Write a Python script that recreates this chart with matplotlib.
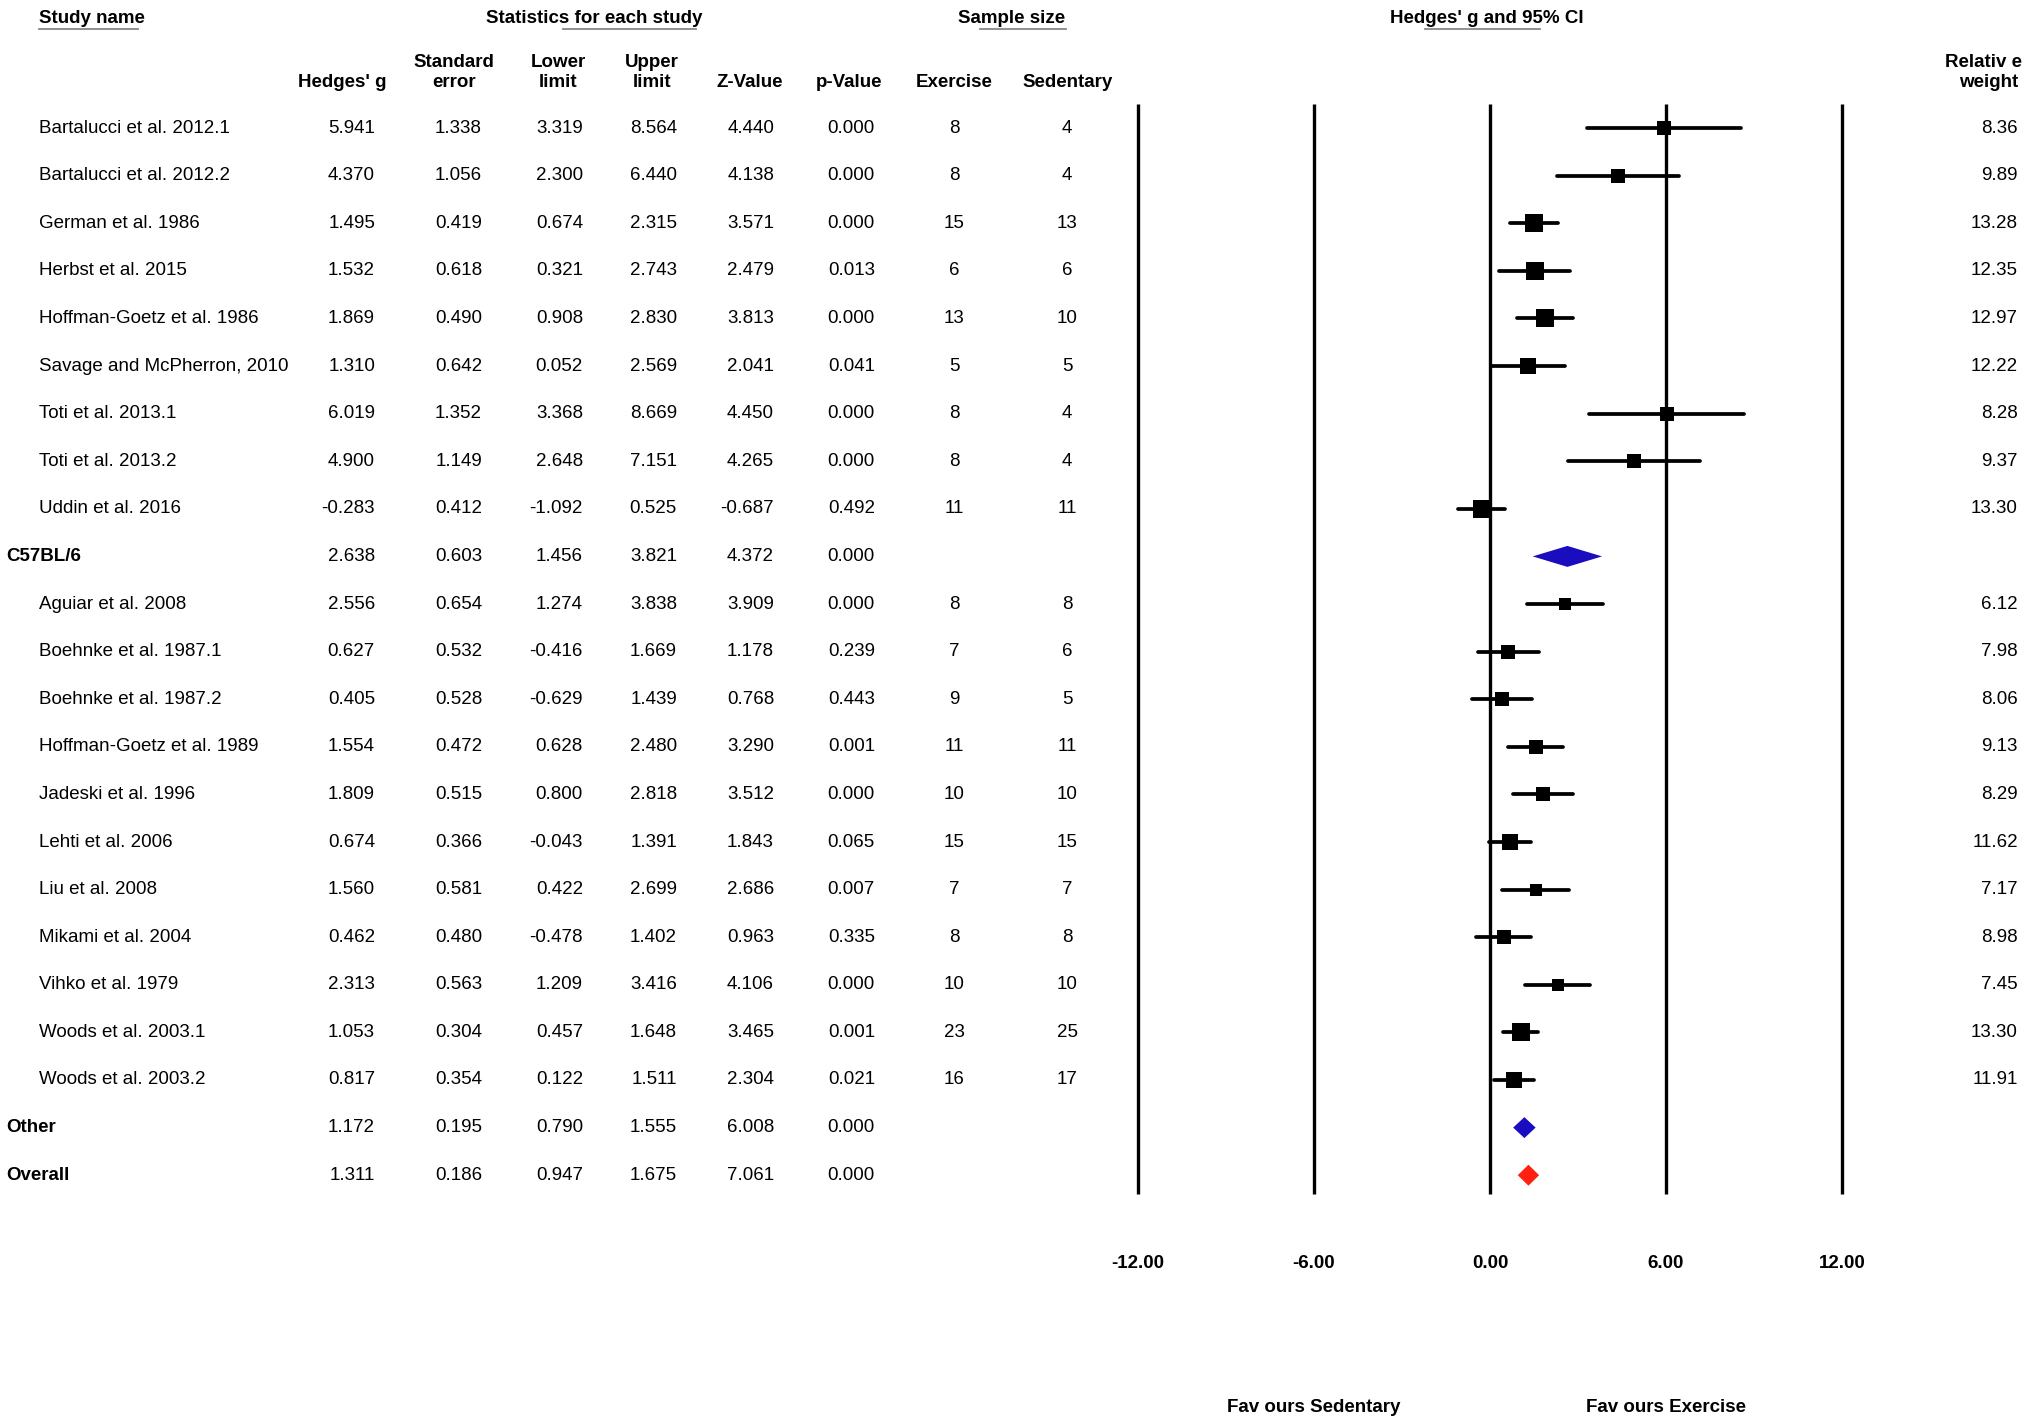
import numpy as np
import matplotlib
matplotlib.use("Agg")
import matplotlib.pyplot as plt
from matplotlib.patches import Polygon

plt.rcParams['font.family'] = ['Liberation Sans Narrow', 'Liberation Sans', 'DejaVu Sans']

# study rows (summary rows have no sample sizes / weights)
names = ["Bartalucci et al. 2012.1", "Bartalucci et al. 2012.2", "German et al. 1986",
         "Herbst et al. 2015", "Hoffman-Goetz et al. 1986", "Savage and McPherron, 2010",
         "Toti et al. 2013.1", "Toti et al. 2013.2", "Uddin et al. 2016", "C57BL/6",
         "Aguiar et al. 2008", "Boehnke et al. 1987.1", "Boehnke et al. 1987.2",
         "Hoffman-Goetz et al. 1989", "Jadeski et al. 1996", "Lehti et al. 2006",
         "Liu et al. 2008", "Mikami et al. 2004", "Vihko et al. 1979",
         "Woods et al. 2003.1", "Woods et al. 2003.2", "Other", "Overall"]
hedges_g = [5.941, 4.370, 1.495, 1.532, 1.869, 1.310, 6.019, 4.900, -0.283, 2.638,
            2.556, 0.627, 0.405, 1.554, 1.809, 0.674, 1.560, 0.462, 2.313, 1.053, 0.817,
            1.172, 1.311]
std_err = [1.338, 1.056, 0.419, 0.618, 0.490, 0.642, 1.352, 1.149, 0.412, 0.603,
           0.654, 0.532, 0.528, 0.472, 0.515, 0.366, 0.581, 0.480, 0.563, 0.304, 0.354,
           0.195, 0.186]
lower = [3.319, 2.300, 0.674, 0.321, 0.908, 0.052, 3.368, 2.648, -1.092, 1.456,
         1.274, -0.416, -0.629, 0.628, 0.800, -0.043, 0.422, -0.478, 1.209, 0.457, 0.122,
         0.790, 0.947]
upper = [8.564, 6.440, 2.315, 2.743, 2.830, 2.569, 8.669, 7.151, 0.525, 3.821,
         3.838, 1.669, 1.439, 2.480, 2.818, 1.391, 2.699, 1.402, 3.416, 1.648, 1.511,
         1.555, 1.675]
z_value = [4.440, 4.138, 3.571, 2.479, 3.813, 2.041, 4.450, 4.265, -0.687, 4.372,
           3.909, 1.178, 0.768, 3.290, 3.512, 1.843, 2.686, 0.963, 4.106, 3.465, 2.304,
           6.008, 7.061]
p_value = [0.000, 0.000, 0.000, 0.013, 0.000, 0.041, 0.000, 0.000, 0.492, 0.000,
           0.000, 0.239, 0.443, 0.001, 0.000, 0.065, 0.007, 0.335, 0.000, 0.001, 0.021,
           0.000, 0.000]
n_exercise = [8, 8, 15, 6, 13, 5, 8, 8, 11, None,
              8, 7, 9, 11, 10, 15, 7, 8, 10, 23, 16, None, None]
n_sedentary = [4, 4, 13, 6, 10, 5, 4, 4, 11, None,
               8, 6, 5, 11, 10, 15, 7, 8, 10, 25, 17, None, None]
rel_weight = [8.36, 9.89, 13.28, 12.35, 12.97, 12.22, 8.28, 9.37, 13.30, None,
              6.12, 7.98, 8.06, 9.13, 8.29, 11.62, 7.17, 8.98, 7.45, 13.30, 11.91, None, None]
summary_colors = {"C57BL/6": "#1a0dc0", "Other": "#1a0dc0", "Overall": "#ff2010"}
x_ticks = [-12, -6, 0, 6, 12]

W, H = 2032, 1427
fig = plt.figure(figsize=(W / 100, H / 100), dpi=100)

# row i sits at pixel y0 + row_h*i ; both axes use the same row scale
y0 = 128
row_h = 47.6
y_top = -y0 / row_h
y_bot = (H - y0) / row_h

tab = fig.add_axes([0, 0, 1, 1])
tab.set_xlim(0, W)
tab.set_ylim(y_bot, y_top)
tab.axis('off')

fs = 13.5
bold = dict(fontsize=fs, fontweight='bold')

def px(y):
    return (y - y0) / row_h

# top headers with their odd partial grey underlines
tab.text(39, px(18), "Study name", ha='left', va='center', **bold)
tab.text(594, px(18), "Statistics for each study", ha='center', va='center', **bold)
tab.text(1012, px(18), "Sample size", ha='center', va='center', **bold)
tab.text(1487, px(18), "Hedges' g and 95% CI", ha='center', va='center', **bold)
for x0, x1 in [(39, 138), (563, 696), (980, 1066), (1425, 1540)]:
    tab.plot([x0, x1], [px(29), px(29)], color='#888888', lw=1.3)

col_heads = [(342, "Hedges' g", 1), (454, "Standard\nerror", 2), (558, "Lower\nlimit", 2),
             (652, "Upper\nlimit", 2), (750, "Z-Value", 1), (849, "p-Value", 1),
             (954, "Exercise", 1), (1068, "Sedentary", 1)]
for x, lab, nl in col_heads:
    if nl == 2:
        top, bottom = lab.split("\n")
        tab.text(x, px(62), top, ha='center', va='center', **bold)
        tab.text(x, px(82), bottom, ha='center', va='center', **bold)
    else:
        tab.text(x, px(82), lab, ha='center', va='center', **bold)
tab.text(2022, px(62), "Relativ e", ha='right', va='center', **bold)
tab.text(2018, px(82), "weight", ha='right', va='center', **bold)

# table body
for i, name in enumerate(names):
    summary = name in summary_colors
    if summary:
        tab.text(6, i, name, ha='left', va='center', **bold)
    else:
        tab.text(39, i, name, ha='left', va='center', fontsize=fs)
    for x, v in [(375, hedges_g[i]), (482, std_err[i]), (583, lower[i]),
                 (677, upper[i]), (774, z_value[i]), (875, p_value[i])]:
        tab.text(x, i, f"{v:.3f}", ha='right', va='center', fontsize=fs)
    if n_exercise[i] is not None:
        tab.text(954, i, str(n_exercise[i]), ha='center', va='center', fontsize=fs)
        tab.text(1067, i, str(n_sedentary[i]), ha='center', va='center', fontsize=fs)
        tab.text(2018, i, f"{rel_weight[i]:.2f}", ha='right', va='center', fontsize=fs)

# forest panel
ax = fig.add_axes([1138 / W, 0, (1842 - 1138) / W, 1])
ax.set_xlim(-12, 12)
ax.set_ylim(y_bot, y_top)
ax.axis('off')

line_top, line_bot = px(104), px(1194)
for t in x_ticks:
    ax.vlines(t, line_top, line_bot, color='black', lw=2.4, clip_on=False)
    ax.text(t, px(1263), f"{t:.2f}", ha='center', va='center', clip_on=False, **bold)

dh = 0.22
for i in range(len(names)):
    if names[i] in summary_colors:
        poly = Polygon([(lower[i], i), (hedges_g[i], i - dh), (upper[i], i),
                        (hedges_g[i], i + dh)], closed=True,
                       facecolor=summary_colors[names[i]], edgecolor='none')
        ax.add_patch(poly)
    else:
        ax.plot([lower[i], upper[i]], [i, i], color='black', lw=2.7,
                solid_capstyle='round', clip_on=False)
        side = (6 + 0.9 * rel_weight[i]) * 0.72
        ax.plot(hedges_g[i], i, marker='s', ms=side, color='black',
                markeredgewidth=0, clip_on=False)

ax.text(-6, px(1408), "Fav ours Sedentary", ha='center', va='center', clip_on=False, **bold)
ax.text(6, px(1408), "Fav ours Exercise", ha='center', va='center', clip_on=False, **bold)

fig.savefig("out.png", dpi=100)
